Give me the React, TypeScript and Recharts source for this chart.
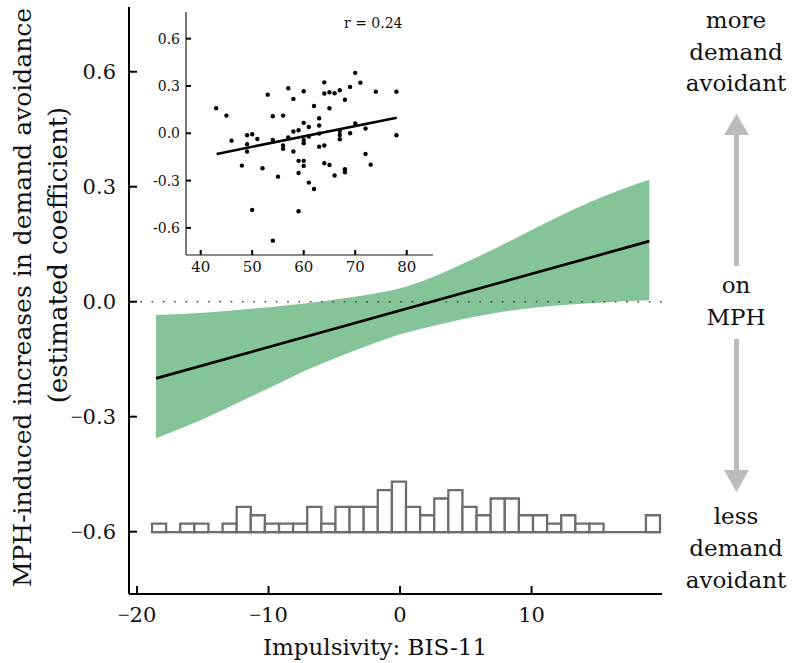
import {
  ComposedChart,
  Area,
  Line,
  Scatter,
  XAxis,
  YAxis,
  ReferenceLine,
  ReferenceArea,
} from "recharts";

const FONT = "'DejaVu Serif', serif";

// main panel: estimated MPH effect vs centred BIS-11
const bandX = [-18.56, -14.7, -12.17, -9.63, -7.1, -4.56, -2.03, 0, 1.77, 4.31, 6.84, 9.38, 11.91, 14.45, 16.98, 18.96];
const bandLow = [-0.356, -0.302, -0.261, -0.22, -0.178, -0.142, -0.109, -0.085, -0.069, -0.049, -0.032, -0.019, -0.01, -0.004, 0.001, 0.004];
const bandHigh = [-0.035, -0.028, -0.021, -0.013, -0.004, 0.008, 0.021, 0.035, 0.055, 0.092, 0.132, 0.176, 0.22, 0.26, 0.295, 0.318];
const fitX = [-18.56, 18.96];
const fitY = [-0.2, 0.158];

// histogram of BIS-11 (centred)
const histStart = -18.86;
const histWidth = 1.073;
const histCounts = [1, 0, 1, 1, 0, 1, 3, 2, 1, 1, 1, 3, 1, 3, 3, 3, 5, 6, 3, 2, 4, 5, 3, 2, 4, 4, 2, 2, 1, 2, 1, 1, 0, 0, 0, 2];

const mainXTicks = [-20, -10, 0, 10];
const mainYTicks = [-0.6, -0.3, 0, 0.3, 0.6];

// inset: raw BIS-11 vs coefficient per participant
const bisScores = [43, 45, 46, 48, 49, 49, 49, 50, 51, 52, 50, 53, 54, 54, 54, 55, 56, 56, 56, 57, 57, 58, 58, 58, 59, 59, 59, 59, 60, 60, 60, 60, 60, 60, 61, 61, 61, 62, 62, 63, 63, 63, 63, 64, 64, 64, 64, 65, 65, 65, 66, 66, 67, 67, 67, 67, 68, 68, 68, 69, 69, 70, 70, 71, 72, 72, 73, 74, 78, 78];
const coefs = [0.159, 0.112, -0.047, -0.205, -0.013, -0.07, -0.116, -0.006, -0.036, -0.222, -0.486, 0.245, 0.108, -0.042, -0.681, -0.275, 0.112, -0.078, -0.099, 0.285, -0.027, 0.218, 0.011, -0.116, 0.019, -0.175, -0.252, -0.495, 0.266, 0.066, -0.042, -0.063, -0.175, -0.207, 0.04, -0.021, -0.313, 0.173, -0.353, 0.095, 0.049, -0.002, -0.085, 0.323, 0.252, -0.078, -0.19, 0.26, 0.159, -0.201, 0.254, -0.268, 0.273, 0.015, -0.011, -0.038, 0.213, -0.228, -0.247, 0.294, 0, 0.383, 0.063, 0.321, 0.03, -0.131, -0.199, 0.264, 0.264, -0.013];
const insetFitX = [43.1, 78.06];
const insetFitY = [-0.131, 0.099];
const insetXTicks = [40, 50, 60, 70, 80];
const insetYTicks = [-0.6, -0.3, 0, 0.3, 0.6];

const bandData = bandX.map((x, i) => ({ x, band: [bandLow[i], bandHigh[i]] }));
const fitData = fitX.map((x, i) => ({ x, y: fitY[i] }));
const scatterData = bisScores.map((x, i) => ({ x, y: coefs[i] }));
const insetFitData = insetFitX.map((x, i) => ({ x, y: insetFitY[i] }));
const histEnd = histStart + histCounts.length * histWidth;

function MainYTick(props: any) {
  const { x, y, payload } = props;
  const v: number = payload.value;
  const txt = Math.abs(v).toFixed(1);
  return (
    <g>
      <line x1={x} x2={x + 8} y1={y} y2={y} stroke="#000" strokeWidth={2} />
      <text x={x - 13} y={y} textAnchor="end" dominantBaseline="central" fontFamily={FONT} fontSize={21} fill="#111">
        {v < 0 ? <tspan fontFamily="'Liberation Serif', serif">−</tspan> : null}
        {txt}
      </text>
    </g>
  );
}

function MainXTick(props: any) {
  const { x, y, payload } = props;
  const v: number = payload.value;
  return (
    <g>
      <line x1={x} x2={x} y1={y} y2={y - 8} stroke="#000" strokeWidth={2} />
      <text x={x} y={y + 28} textAnchor="middle" fontFamily={FONT} fontSize={21} fill="#111">
        {v < 0 ? <tspan fontFamily="'Liberation Serif', serif">−</tspan> : null}
        {Math.abs(v)}
      </text>
    </g>
  );
}

function InsetYTick(props: any) {
  const { x, y, payload } = props;
  return (
    <g>
      <line x1={x} x2={x + 5} y1={y} y2={y} stroke="#000" strokeWidth={2} />
      <text x={x - 6} y={y} textAnchor="end" dominantBaseline="central" fontFamily={FONT} fontSize={14} fill="#111">
        {payload.value.toFixed(1)}
      </text>
    </g>
  );
}

function InsetXTick(props: any) {
  const { x, y, payload } = props;
  return (
    <g>
      <line x1={x} x2={x} y1={y} y2={y - 5} stroke="#000" strokeWidth={2} />
      <text x={x} y={y + 17} textAnchor="middle" fontFamily={FONT} fontSize={15} fill="#111">
        {payload.value}
      </text>
    </g>
  );
}

function Dot(props: any) {
  return <circle cx={props.cx} cy={props.cy} r={2.2} fill="#000" />;
}

function Annotations() {
  const grey = "#b9bdc0";
  const txt = { fontFamily: FONT, fill: "#111", textAnchor: "middle" as const };
  return (
    <svg width={792} height={663} style={{ position: "absolute", left: 0, top: 0, pointerEvents: "none" }}>
      <text transform="translate(31,297.5) rotate(-90)" fontSize={25} {...txt}>
        MPH-induced increases in demand avoidance
      </text>
      <text transform="translate(67,255) rotate(-90)" fontSize={26} {...txt}>
        (estimated coefficient)
      </text>
      <text x={375} y={655} fontSize={23} {...txt}>
        Impulsivity: BIS-11
      </text>

      <g fontSize={23}>
        <text x={736} y={28} {...txt}>more</text>
        <text x={736} y={59.5} {...txt}>demand</text>
        <text x={736} y={91} {...txt}>avoidant</text>
        <text x={736} y={293} {...txt}>on</text>
        <text x={736} y={325} {...txt}>MPH</text>
        <text x={736} y={524} {...txt}>less</text>
        <text x={736} y={556} {...txt}>demand</text>
        <text x={736} y={588} {...txt}>avoidant</text>
      </g>

      <rect x={734} y={134} width={5} height={132} fill={grey} />
      <polygon points="736.5,114 724,135 749,135" fill={grey} />
      <rect x={734} y={339} width={5} height={132} fill={grey} />
      <polygon points="736.5,492 724,470 749,470" fill={grey} />
    </svg>
  );
}

export default function App() {
  return (
    <div style={{ position: "absolute", left: 0, top: 0, width: 792, height: 663, background: "#fff" }}>
      <div style={{ position: "absolute", left: 0, top: 0 }}>
        <ComposedChart
          width={792}
          height={663}
          data={bandData}
          margin={{ top: 7, right: 130, bottom: 39, left: 69 }}
        >
          <XAxis
            dataKey="x"
            type="number"
            domain={[-20.61, 19.92]}
            ticks={mainXTicks}
            allowDataOverflow
            height={30}
            tickSize={0}
            tickMargin={0}
            tickLine={false}
            axisLine={{ stroke: "#000", strokeWidth: 2 }}
            tick={<MainXTick />}
          />
          <YAxis
            type="number"
            domain={[-0.7626, 0.7689]}
            ticks={mainYTicks}
            allowDataOverflow
            width={60}
            tickSize={0}
            tickMargin={0}
            tickLine={false}
            axisLine={{ stroke: "#000", strokeWidth: 2 }}
            tick={<MainYTick />}
          />
          <YAxis yAxisId="hist" type="number" hide domain={[-7.38, 62.56]} allowDataOverflow />
          <Area
            dataKey="band"
            type="monotone"
            fill="#84c498"
            fillOpacity={1}
            stroke="none"
            isAnimationActive={false}
          />
          <ReferenceLine y={0} stroke="#444" strokeWidth={1.6} strokeDasharray="1.6 9.7" />
          <Line
            data={fitData}
            dataKey="y"
            stroke="#000"
            strokeWidth={2.7}
            dot={false}
            isAnimationActive={false}
          />
          <ReferenceLine
            yAxisId="hist"
            segment={[
              { x: histStart, y: 0 },
              { x: histEnd, y: 0 },
            ]}
            stroke="#6b6e70"
            strokeWidth={2.3}
            ifOverflow="visible"
          />
          {histCounts.map((c, i) =>
            c > 0 ? (
              <ReferenceArea
                key={i}
                yAxisId="hist"
                x1={histStart + i * histWidth}
                x2={histStart + (i + 1) * histWidth}
                y1={0}
                y2={c}
                fill="#fff"
                fillOpacity={1}
                stroke="#6b6e70"
                strokeWidth={2.3}
                ifOverflow="visible"
              />
            ) : null,
          )}
        </ComposedChart>
      </div>

      <Annotations />

      <div style={{ position: "absolute", left: 0, top: 0 }}>
        <ComposedChart
          width={460}
          height={300}
          data={scatterData}
          margin={{ top: 12, right: 27, bottom: 20, left: 146 }}
        >
          <XAxis
            dataKey="x"
            type="number"
            domain={[37.15, 85.1]}
            ticks={insetXTicks}
            allowDataOverflow
            height={25}
            tickSize={0}
            tickMargin={0}
            tickLine={false}
            axisLine={{ stroke: "#666", strokeWidth: 1.5 }}
            tick={<InsetXTick />}
          />
          <YAxis
            dataKey="y"
            type="number"
            domain={[-0.772, 0.769]}
            ticks={insetYTicks}
            allowDataOverflow
            width={40}
            tickSize={0}
            tickMargin={0}
            tickLine={false}
            axisLine={{ stroke: "#222", strokeWidth: 1.2 }}
            tick={<InsetYTick />}
          />
          <Scatter data={scatterData} dataKey="y" shape={<Dot />} isAnimationActive={false} />
          <Line
            data={insetFitData}
            dataKey="y"
            stroke="#000"
            strokeWidth={2.6}
            dot={false}
            isAnimationActive={false}
          />
        </ComposedChart>
        <svg width={460} height={40} style={{ position: "absolute", left: 0, top: 0, pointerEvents: "none" }}>
          <text x={344} y={28} fontFamily={FONT} fontSize={14} fill="#111">
            r = 0.24
          </text>
        </svg>
      </div>
    </div>
  );
}
